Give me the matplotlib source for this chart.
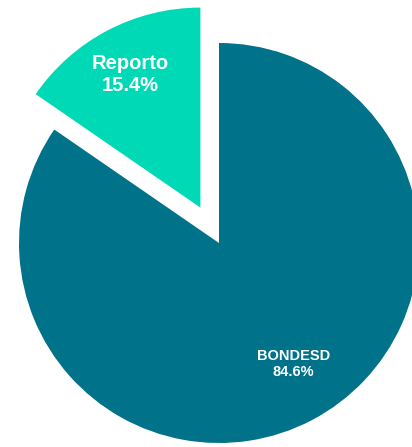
import numpy as np
import matplotlib.pyplot as plt

# datos
etiquetas = ['BONDESD', 'Reporto']
porcentajes = [84.6, 15.4]
colores = ['#00728A', '#00D9B5']
separacion = [0, 0.2]

fig = plt.figure(figsize=(4.12, 4.47), dpi=100)
ax = fig.add_axes([0, 0, 1, 1])

wedges, _ = ax.pie(porcentajes, colors=colores, explode=separacion,
                   startangle=90, counterclock=False, radius=1)

# etiquetas dentro de cada rebanada
tam = [10.5, 14.5]
dist = [0.71, 0.75]
giro = [4, 0]  # pequeño ajuste del ángulo de la etiqueta
for w, lab, p, fs, d, g in zip(wedges, etiquetas, porcentajes, tam, dist, giro):
    ang = np.deg2rad((w.theta1 + w.theta2) / 2 + g)
    cx, cy = w.center
    ax.text(cx + d * np.cos(ang), cy + d * np.sin(ang), f'{lab}\n{p}%',
            ha='center', va='center', color='white', fontsize=fs,
            fontweight='bold', family='Liberation Sans', linespacing=1.2)

# encuadre: centro en (219, 243) px, radio 200 px
r = 200
ax.set_xlim(-219 / r, (412 - 219) / r)
ax.set_ylim(-(447 - 243) / r, 243 / r)
ax.set_aspect('auto')
ax.axis('off')

fig.savefig('out.png', dpi=100)
